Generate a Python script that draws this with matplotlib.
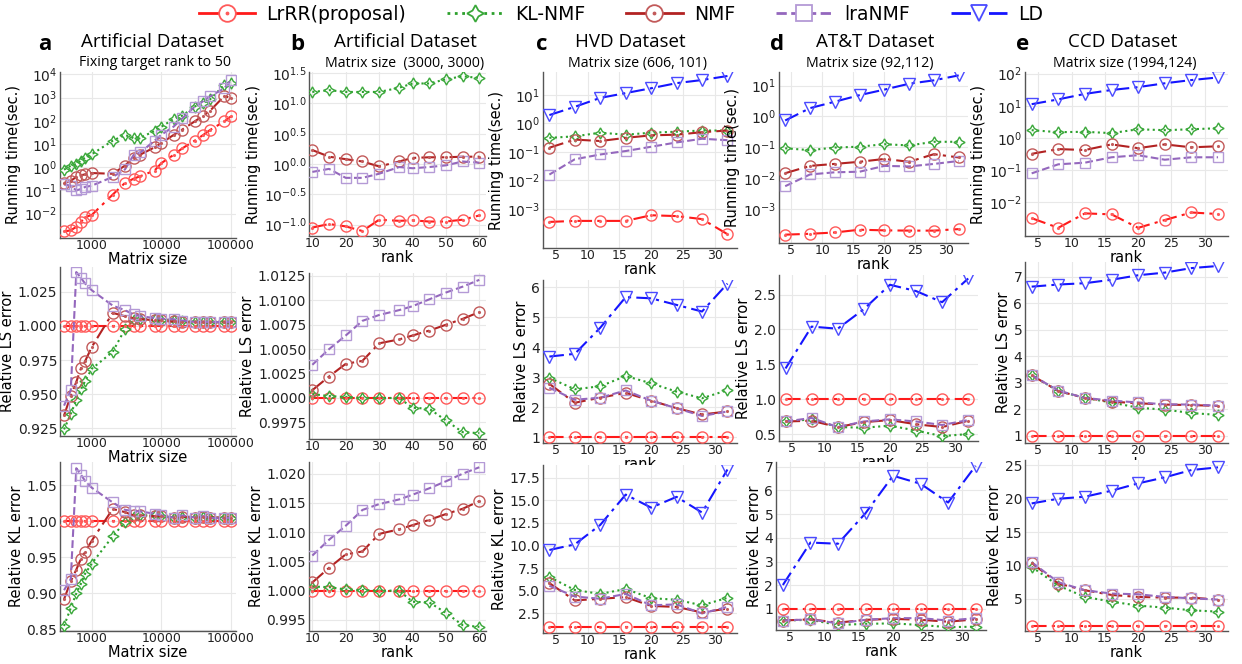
import numpy as np
import matplotlib
matplotlib.use('Agg')
import matplotlib.pyplot as plt
from matplotlib.lines import Line2D
from matplotlib.legend_handler import HandlerTuple
from matplotlib.ticker import FixedLocator, FuncFormatter, NullLocator

W, H = 1242, 664

# ─── data ────────────────────────────────────────────────────
SIZES = [400, 500, 600, 700, 800, 1000, 2000, 3000, 4000, 5000, 8000, 10000,
         15000, 20000, 30000, 40000, 50000, 80000, 100000]
RANK_B = [10, 15, 20, 25, 30, 36, 40, 45, 50, 55, 60]
RANK_R = [4, 8, 12, 16, 20, 24, 28, 32]

# a: artificial, varying matrix size
a_time_lrrr = [0.0017, 0.0019, 0.0027, 0.0044, 0.0071, 0.0087, 0.066, 0.21, 0.32, 0.41,
               0.72, 1.5, 3.4, 6.5, 13.8, 24.5, 40, 93, 155]
a_time_kl = [0.78, 1.17, 1.38, 1.9, 2.6, 3.6, 13.8, 24.5, 17.8, 19, 36, 55, 120, 166,
             407, 600, 830, 3470, 4070]
a_time_nmf = [0.21, 0.26, 0.38, 0.45, 0.49, 0.56, 0.52, 1.17, 2.6, 3.5, 7.2, 11, 24.5,
              42, 93, 166, 270, 1150, 980]
a_time_lra = [0.18, 0.16, 0.10, 0.115, 0.14, 0.16, 0.38, 0.8, 3.4, 4.3, 14, 25, 56, 126,
              400, 700, 1120, 2500, 5600]
a_ls_lrrr = [1.0] * 19
a_ls_kl = [0.9243, 0.9357, 0.9457, 0.9536, 0.9595, 0.9686, 0.981, 0.9976, 1.0043, 1.005,
           1.0048, 1.0046, 1.004, 1.0035, 1.003, 1.0028, 1.0027, 1.0026, 1.0025]
a_ls_nmf = [0.9345, 0.949, 0.959, 0.969, 0.974, 0.9845, 1.0095, 1.007, 1.0055, 1.005,
            1.004, 1.004, 1.0032, 1.003, 1.0027, 1.0026, 1.0025, 1.0025, 1.0025]
a_ls_lra = [0.9417, 0.953, 1.0393, 1.035, 1.031, 1.026, 1.0148, 1.0114, 1.0083, 1.007,
            1.0057, 1.0052, 1.0048, 1.0038, 1.0029, 1.0029, 1.0028, 1.0028, 1.0028]
a_kl_lrrr = [1.0] * 19
a_kl_kl = [0.855, 0.880, 0.900, 0.9135, 0.927, 0.9414, 0.979, 0.999, 1.006, 1.008, 1.008,
           1.007, 1.005, 1.006, 1.005, 1.006, 1.005, 1.005, 1.005]
a_kl_nmf = [0.892, 0.917, 0.933, 0.948, 0.957, 0.973, 1.017, 1.0126, 1.008, 1.008, 1.007,
            1.007, 1.005, 1.0065, 1.005, 1.006, 1.005, 1.005, 1.005]
a_kl_lra = [0.9045, 0.920, 1.0734, 1.0644, 1.056, 1.0464, 1.026, 1.0158, 1.014, 1.0135,
            1.0104, 1.008, 1.005, 1.008, 1.005, 1.0068, 1.0045, 1.004, 1.005]

# b: artificial (3000, 3000), varying rank
b_time_lrrr = [0.089, 0.102, 0.093, 0.078, 0.120, 0.115, 0.117, 0.112, 0.112, 0.120, 0.141]
b_time_kl = [15.5, 16.6, 15.5, 15.5, 15.5, 18.2, 21.4, 21.4, 25.1, 28.2, 26.3]
b_time_nmf = [1.70, 1.32, 1.20, 1.10, 0.91, 1.10, 1.26, 1.29, 1.29, 1.32, 1.32]
b_time_lra = [0.74, 0.83, 0.59, 0.59, 0.69, 0.89, 0.85, 0.89, 0.95, 1.10, 1.05]
b_ls_lrrr = [1.0] * 11
b_ls_kl = [1.0004, 1.0002, 1.0001, 1.0, 1.0, 1.0, 0.999, 0.9989, 0.9977, 0.9965, 0.9964]
b_ls_nmf = [1.0008, 1.0022, 1.0035, 1.0038, 1.0056, 1.006, 1.0064, 1.0069, 1.0075, 1.0081, 1.0088]
b_ls_lra = [1.0034, 1.005, 1.0064, 1.0079, 1.0085, 1.009, 1.0094, 1.0101, 1.0108, 1.0114, 1.0121]
b_kl_lrrr = [1.0] * 11
b_kl_kl = [1.0007, 1.0006, 1.0002, 1.0001, 1.0, 1.0, 0.9981, 0.998, 0.9962, 0.9941, 0.9938]
b_kl_nmf = [1.0014, 1.0039, 1.0062, 1.0067, 1.0097, 1.0105, 1.0112, 1.0121, 1.0131, 1.014, 1.0153]
b_kl_lra = [1.006, 1.0087, 1.0111, 1.0138, 1.0148, 1.0156, 1.0164, 1.0175, 1.0187, 1.02, 1.0211]

# c: HVD
c_time_lrrr = [0.00035, 0.00038, 0.00038, 0.00038, 0.0006, 0.00056, 0.00044, 0.00013]
c_time_kl = [0.31, 0.35, 0.47, 0.40, 0.47, 0.51, 0.56, 0.56]
c_time_nmf = [0.14, 0.27, 0.24, 0.31, 0.38, 0.40, 0.49, 0.56]
c_time_lra = [0.016, 0.055, 0.081, 0.107, 0.151, 0.214, 0.288, 0.257]
c_time_ld = [1.95, 3.8, 7.8, 11.5, 17, 25.7, 33, 45.7]
c_ls_lrrr = [1.0] * 8
c_ls_kl = [2.98, 2.60, 2.70, 3.04, 2.80, 2.52, 2.30, 2.57]
c_ls_nmf = [2.78, 2.15, 2.32, 2.48, 2.22, 1.97, 1.76, 1.86]
c_ls_lra = [2.65, 2.25, 2.32, 2.56, 2.22, 1.97, 1.71, 1.86]
c_ls_ld = [3.69, 3.78, 4.65, 5.67, 5.63, 5.41, 5.19, 6.12]
c_kl_lrrr = [1.0] * 8
c_kl_kl = [6.53, 5.09, 4.66, 5.20, 4.19, 4.01, 3.40, 4.23]
c_kl_nmf = [5.85, 3.94, 4.12, 4.30, 3.33, 3.22, 2.61, 3.04]
c_kl_lra = [5.56, 4.37, 4.12, 4.66, 3.40, 3.50, 2.50, 3.22]
c_kl_ld = [9.51, 10.13, 12.28, 15.63, 14.19, 15.38, 13.65, 18.4]

# d: AT&T
d_time_lrrr = [0.000148, 0.000158, 0.000174, 0.000214, 0.000204, 0.0002, 0.0002, 0.000224]
d_time_kl = [0.093, 0.081, 0.098, 0.105, 0.126, 0.115, 0.151, 0.151]
d_time_nmf = [0.0145, 0.025, 0.029, 0.034, 0.042, 0.034, 0.060, 0.047]
d_time_lra = [0.0055, 0.0132, 0.0155, 0.0162, 0.025, 0.024, 0.029, 0.036]
d_time_ld = [0.74, 1.86, 3.0, 4.9, 7.4, 11.5, 14.8, 21.4]
d_ls_lrrr = [1.0] * 8
d_ls_kl = [0.68, 0.71, 0.60, 0.59, 0.62, 0.55, 0.47, 0.50]
d_ls_nmf = [0.68, 0.69, 0.60, 0.67, 0.70, 0.64, 0.60, 0.69]
d_ls_lra = [0.68, 0.73, 0.60, 0.68, 0.71, 0.68, 0.63, 0.70]
d_ls_ld = [1.44, 2.04, 2.01, 2.29, 2.64, 2.55, 2.39, 2.73]
d_kl_lrrr = [1.0] * 8
d_kl_kl = [0.51, 0.54, 0.32, 0.37, 0.39, 0.32, 0.23, 0.25]
d_kl_nmf = [0.51, 0.56, 0.42, 0.54, 0.58, 0.54, 0.46, 0.56]
d_kl_lra = [0.51, 0.56, 0.39, 0.54, 0.61, 0.61, 0.51, 0.61]
d_kl_ld = [2.01, 3.80, 3.75, 5.04, 6.62, 6.28, 5.49, 7.04]

# e: CCD
e_time_lrrr = [0.0032, 0.0016, 0.0045, 0.0042, 0.0016, 0.0028, 0.0048, 0.0043]
e_time_kl = [1.74, 1.51, 1.55, 1.41, 1.86, 1.74, 1.86, 2.0]
e_time_nmf = [0.32, 0.45, 0.42, 0.63, 0.48, 0.63, 0.51, 0.55]
e_time_lra = [0.079, 0.151, 0.17, 0.25, 0.29, 0.21, 0.25, 0.25]
e_time_ld = [11.2, 15.8, 23.4, 30.9, 38, 50, 63, 76]
e_ls_lrrr = [1.0] * 8
e_ls_kl = [3.28, 2.68, 2.42, 2.25, 2.05, 1.98, 1.85, 1.78]
e_ls_nmf = [3.28, 2.68, 2.42, 2.28, 2.22, 2.17, 2.15, 2.12]
e_ls_lra = [3.28, 2.70, 2.42, 2.32, 2.25, 2.18, 2.17, 2.13]
e_ls_ld = [6.62, 6.70, 6.75, 6.88, 7.05, 7.15, 7.32, 7.40]
e_kl_lrrr = [1.0] * 8
e_kl_kl = [9.8, 7.0, 5.3, 4.6, 4.0, 3.7, 3.3, 3.1]
e_kl_nmf = [10.4, 7.3, 6.3, 5.6, 5.3, 5.2, 5.2, 4.9]
e_kl_lra = [10.5, 7.5, 6.3, 5.8, 5.7, 5.3, 5.1, 4.9]
e_kl_ld = [19.3, 20.0, 20.3, 21.2, 22.3, 23.2, 24.3, 24.7]

# ─── styles ───────────────────────────────────────────────────
DASHDOT = (0, (7, 2.5, 1.5, 2.5))
STY = {
    'lrrr': dict(color='#ff1a1a', ls=DASHDOT, marker='o', mec='#ff5a5a', ms=8, dot=True),
    'kl':   dict(color='#2ca02c', ls=':', marker=(4, 1, 0), mec='#3aa83a', ms=8),
    'nmf':  dict(color='#b22222', ls=DASHDOT, marker='o', mec='#c25a5a', ms=8, dot=True),
    'lra':  dict(color='#9467bd', ls='--', marker='s', mec='#b49ad6', ms=7),
    'ld':   dict(color='#1515ff', ls=DASHDOT, marker='v', mec='#4a4aff', ms=8),
}
ORDER = ['lrrr', 'kl', 'nmf', 'lra', 'ld']


def rect(l, t, r, b):
    return [l / W, 1 - b / H, (r - l) / W, (b - t) / H]


def pow_fmt(v, pos):
    return r'$10^{%.1f}$' % np.log10(v)


def style_ax(ax):
    ax.grid(True, color='#e8e8e8', lw=0.8)
    ax.set_axisbelow(True)
    for s in ['top', 'right']:
        ax.spines[s].set_visible(False)
    for s in ['left', 'bottom']:
        ax.spines[s].set_color('#555555')
        ax.spines[s].set_linewidth(1.0)
    ax.tick_params(axis='y', length=0, labelsize=10, pad=2, colors='#222222')
    ax.tick_params(axis='x', length=0, labelsize=9, pad=1, colors='#222222')


def draw(ax, x, series):
    for key in ORDER:
        if key not in series:
            continue
        st = STY[key]
        ax.plot(x, series[key], color=st['color'], ls=st['ls'], lw=1.5,
                marker=st['marker'], ms=st['ms'], mec=st['mec'],
                mfc='none', mew=1.0, zorder=3)
        if st.get('dot'):
            ax.plot(x, series[key], ls='none', marker='.', ms=2.5,
                    color=st['mec'], zorder=4)


fig = plt.figure(figsize=(W / 100, H / 100), dpi=100)

COLS = [
    dict(x=SIZES, xlabel='Matrix size',
         rects=[(60, 72, 236, 238), (60, 267, 236, 436), (60, 462, 236, 631)],
         rows=[
             (dict(lrrr=a_time_lrrr, kl=a_time_kl, nmf=a_time_nmf, lra=a_time_lra),
              (10 ** -3.05, 10 ** 4.1), [1e-2, 1e-1, 1, 1e1, 1e2, 1e3, 1e4], 'log'),
             (dict(lrrr=a_ls_lrrr, kl=a_ls_kl, nmf=a_ls_nmf, lra=a_ls_lra),
              (0.9195, 1.043), [0.925, 0.95, 0.975, 1.0, 1.025], '%.3f'),
             (dict(lrrr=a_kl_lrrr, kl=a_kl_kl, nmf=a_kl_nmf, lra=a_kl_lra),
              (0.848, 1.082), [0.85, 0.90, 0.95, 1.0, 1.05], '%.2f'),
         ]),
    dict(x=RANK_B, xlabel='rank',
         rects=[(309, 72, 486, 236), (309, 273, 486, 439), (309, 462, 486, 631)],
         rows=[
             (dict(lrrr=b_time_lrrr, kl=b_time_kl, nmf=b_time_nmf, lra=b_time_lra),
              (10 ** -1.19, 10 ** 1.52), [10 ** -1.0, 10 ** -0.5, 1, 10 ** 0.5, 10, 10 ** 1.5], 'pow'),
             (dict(lrrr=b_ls_lrrr, kl=b_ls_kl, nmf=b_ls_nmf, lra=b_ls_lra),
              (0.9958, 1.0128), [0.9975, 1.0, 1.0025, 1.005, 1.0075, 1.01, 1.0125], '%.4f'),
             (dict(lrrr=b_kl_lrrr, kl=b_kl_kl, nmf=b_kl_nmf, lra=b_kl_lra),
              (0.9931, 1.022), [0.995, 1.0, 1.005, 1.01, 1.015, 1.02], '%.3f'),
         ]),
    dict(x=RANK_R, xlabel='rank',
         rects=[(543, 72, 737, 248), (543, 280, 737, 443), (543, 465, 737, 633)],
         rows=[
             (dict(lrrr=c_time_lrrr, kl=c_time_kl, nmf=c_time_nmf, lra=c_time_lra, ld=c_time_ld),
              (10 ** -4.37, 10 ** 1.8), [1e-3, 1e-2, 1e-1, 1, 1e1], 'log'),
             (dict(lrrr=c_ls_lrrr, kl=c_ls_kl, nmf=c_ls_nmf, lra=c_ls_lra, ld=c_ls_ld),
              (0.81, 6.24), [1, 2, 3, 4, 5, 6], '%d'),
             (dict(lrrr=c_kl_lrrr, kl=c_kl_kl, nmf=c_kl_nmf, lra=c_kl_lra, ld=c_kl_ld),
              (0.34, 18.9), [2.5, 5, 7.5, 10, 12.5, 15, 17.5], '%.1f'),
         ]),
    dict(x=RANK_R, xlabel='rank',
         rects=[(779, 72, 968, 243), (779, 275, 978, 441), (776, 462, 986, 630)],
         rows=[
             (dict(lrrr=d_time_lrrr, kl=d_time_kl, nmf=d_time_nmf, lra=d_time_lra, ld=d_time_ld),
              (10 ** -4.1, 10 ** 1.44), [1e-3, 1e-2, 1e-1, 1, 1e1], 'log'),
             (dict(lrrr=d_ls_lrrr, kl=d_ls_kl, nmf=d_ls_nmf, lra=d_ls_lra, ld=d_ls_ld),
              (0.40, 2.78), [0.5, 1.0, 1.5, 2.0, 2.5], '%.1f'),
             (dict(lrrr=d_kl_lrrr, kl=d_kl_kl, nmf=d_kl_nmf, lra=d_kl_lra, ld=d_kl_ld),
              (0.11, 7.2), [1, 2, 3, 4, 5, 6, 7], '%d'),
         ]),
    dict(x=RANK_R, xlabel='rank',
         rects=[(1025, 72, 1228, 236), (1025, 262, 1228, 443), (1025, 460, 1228, 631)],
         rows=[
             (dict(lrrr=e_time_lrrr, kl=e_time_kl, nmf=e_time_nmf, lra=e_time_lra, ld=e_time_ld),
              (10 ** -3.05, 10 ** 2.05), [1e-2, 1e-1, 1, 1e1, 1e2], 'log'),
             (dict(lrrr=e_ls_lrrr, kl=e_ls_kl, nmf=e_ls_nmf, lra=e_ls_lra, ld=e_ls_ld),
              (0.72, 7.55), [1, 2, 3, 4, 5, 6, 7], '%d'),
             (dict(lrrr=e_kl_lrrr, kl=e_kl_kl, nmf=e_kl_nmf, lra=e_kl_lra, ld=e_kl_ld),
              (0.2, 25.8), [5, 10, 15, 20, 25], '%d'),
         ]),
]

YLABELS = ['Running time(sec.)', 'Relative LS error', 'Relative KL error']

for ci, col in enumerate(COLS):
    for ri, (series, ylim, yticks, fmt) in enumerate(col['rows']):
        ax = fig.add_axes(rect(*col['rects'][ri]))
        style_ax(ax)
        draw(ax, col['x'], series)
        if ci == 0:
            ax.set_xscale('log')
            ax.set_xlim(350, 118000)
            ax.xaxis.set_major_locator(FixedLocator([1000, 10000, 100000]))
            ax.xaxis.set_major_formatter(FuncFormatter(lambda v, p: '%d' % v))
            ax.xaxis.set_minor_locator(NullLocator())
        elif ci == 1:
            ax.set_xlim(9, 62)
            ax.set_xticks([10, 20, 30, 40, 50, 60])
        else:
            ax.set_xlim(3.0, 33.5)
            ax.set_xticks([5, 10, 15, 20, 25, 30])
        if fmt in ('log', 'pow'):
            ax.set_yscale('log')
            ax.yaxis.set_major_locator(FixedLocator(yticks))
            ax.yaxis.set_minor_locator(NullLocator())
            if fmt == 'pow':
                ax.yaxis.set_major_formatter(FuncFormatter(pow_fmt))
        else:
            ax.set_yticks(yticks)
            ax.yaxis.set_major_formatter(FuncFormatter(lambda v, p, f=fmt: f % v))
        ax.set_ylim(*ylim)
        ax.set_ylabel(YLABELS[ri], fontsize=10.5, labelpad=2)
        if not (ci == 1 and ri == 1):
            ax.set_xlabel(col['xlabel'], fontsize=10.5, labelpad=0)

# ─── panel titles ─────────────────────────────────────────────
TITLES = [
    ('a', 45, 'Artificial Dataset', 152, 'Fixing target rank to 50', 155),
    ('b', 297, 'Artificial Dataset', 405, 'Matrix size  (3000, 3000)', 405),
    ('c', 542, 'HVD Dataset', 630, 'Matrix size (606, 101)', 638),
    ('d', 777, 'AT&T Dataset', 875, 'Matrix size (92,112)', 870),
    ('e', 1023, 'CCD Dataset', 1123, 'Matrix size (1994,124)', 1125),
]
for letter, lx, title, tx, sub, sx in TITLES:
    fig.text(lx / W, 1 - 44 / H, letter, fontsize=16, fontweight='bold',
             ha='center', va='center', family='Open Sans')
    fig.text(tx / W, 1 - 42 / H, title, fontsize=13.5, ha='center', va='center',
             family='Open Sans')
    fig.text(sx / W, 1 - 63 / H, sub, fontsize=10.2, ha='center', va='center',
             family='Open Sans')

# ─── legend ───────────────────────────────────────────────────
LEG_LABELS = ['LrRR(proposal)', 'KL-NMF', 'NMF', 'lraNMF', 'LD']
LEG_LS = ['-', ':', '-', '--', DASHDOT]
handles = []
for key, lab, ls in zip(ORDER, LEG_LABELS, LEG_LS):
    st = STY[key]
    ln = Line2D([], [], color=st['color'], ls=ls, lw=2.0, marker=st['marker'],
                ms=st['ms'] + 4, mec=st['mec'], mfc='white', mew=1.3)
    if st.get('dot'):
        dot = Line2D([], [], ls='none', marker='.', ms=3.5, color=st['mec'])
        handles.append((ln, dot))
    else:
        handles.append(ln)
fig.legend(handles=handles, labels=LEG_LABELS, loc='center',
           bbox_to_anchor=(0.5, 1 - 14 / H), ncol=5,
           handler_map={tuple: HandlerTuple(ndivide=1, pad=0)},
           frameon=False, fontsize=13.5, handlelength=3.0, columnspacing=2.2,
           handletextpad=0.6, borderaxespad=0)

fig.savefig('out.png', dpi=100)
